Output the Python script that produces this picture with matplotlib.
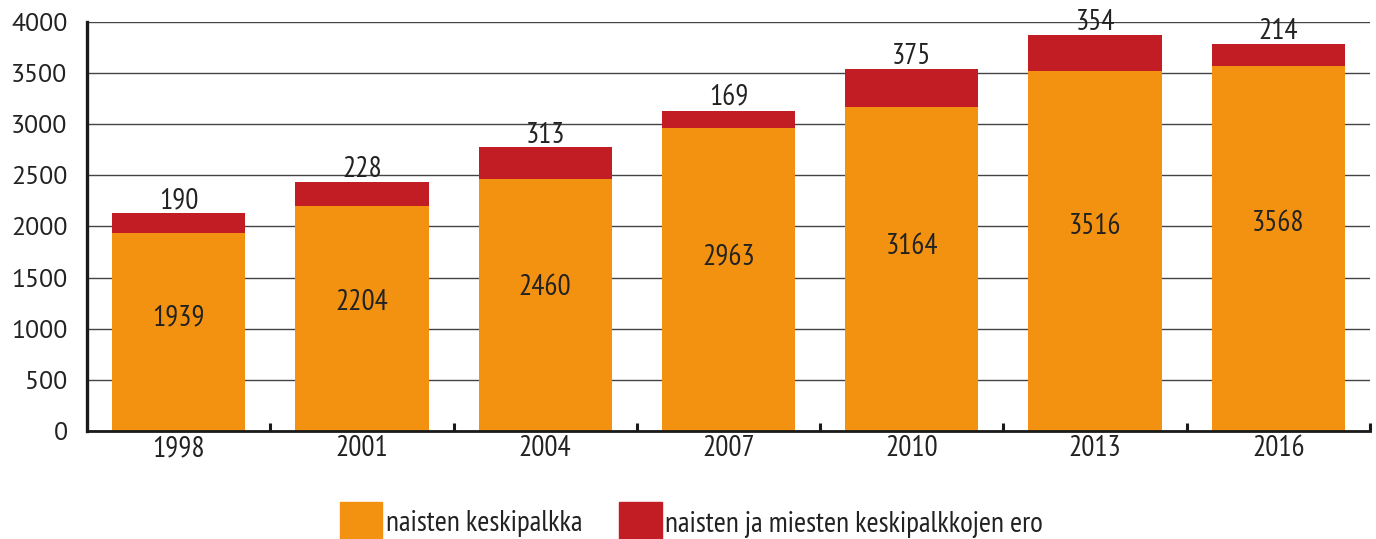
import matplotlib.pyplot as plt
from matplotlib.patches import Patch
from matplotlib.ticker import FixedLocator

narrow = ['PT Sans Narrow', 'Asap Condensed', 'DejaVu Sans']
wide = ['PT Sans', 'Open Sans', 'DejaVu Sans']
plt.rcParams['font.family'] = narrow

years = ['1998', '2001', '2004', '2007', '2010', '2013', '2016']
naisten = [1939, 2204, 2460, 2963, 3164, 3516, 3568]
ero = [190, 228, 313, 169, 375, 354, 214]

orange = '#F39210'
red = '#C21D24'
txtc = '#222222'
fs = 21

fig = plt.figure(figsize=(13.76, 5.39), dpi=100)
ax = fig.add_axes([0.0632, 0.2004, 0.9324, 0.7588])

x = range(len(years))
w = 0.727
ax.bar(x, naisten, width=w, color=orange, zorder=2)
ax.bar(x, ero, bottom=naisten, width=w, color=red, zorder=2)

# value labels
for i, (a, b) in enumerate(zip(naisten, ero)):
    ax.text(i, a * 0.57, str(a), ha='center', va='center', fontsize=fs, color=txtc, zorder=3)
    ax.annotate(str(b), (i, a + b), xytext=(0, 3.5), textcoords='offset points',
                ha='center', va='baseline', fontsize=fs, color=txtc, annotation_clip=False)

ax.set_xlim(-0.5, 6.5)
ax.set_ylim(0, 4000)
ax.set_yticks(range(0, 4001, 500))
ax.yaxis.grid(True, color='#444444', linewidth=1.0, zorder=1)
ax.set_axisbelow(True)

ax.set_xticks(list(x))
ax.set_xticklabels(years)
ax.xaxis.set_minor_locator(FixedLocator([i + 0.5 for i in range(len(years))]))
ax.tick_params(axis='x', which='major', length=0, pad=3, labelsize=fs, labelcolor=txtc)
ax.tick_params(axis='x', which='minor', length=6, width=2.2, direction='in', color='#1a1a1a')
ax.tick_params(axis='y', length=0, pad=14, labelsize=18.5, labelcolor=txtc)
for lab in ax.get_yticklabels():
    lab.set_family(wide)

for s in ['top', 'right']:
    ax.spines[s].set_visible(False)
ax.spines['left'].set_linewidth(2.4)
ax.spines['bottom'].set_linewidth(2.0)
ax.spines['left'].set_color('#1a1a1a')
ax.spines['bottom'].set_color('#1a1a1a')

handles = [Patch(color=orange, label='naisten keskipalkka'),
           Patch(color=red, label='naisten ja miesten keskipalkkojen ero')]
fig.legend(handles=handles, loc='center left', bbox_to_anchor=(340 / 1376, 1 - 522 / 539), ncol=2,
           frameon=False, fontsize=fs, handlelength=1.45, handleheight=1.75, borderpad=0,
           borderaxespad=0, handletextpad=0.12, columnspacing=1.27, labelcolor=txtc)

fig.savefig('out.png', dpi=100)
